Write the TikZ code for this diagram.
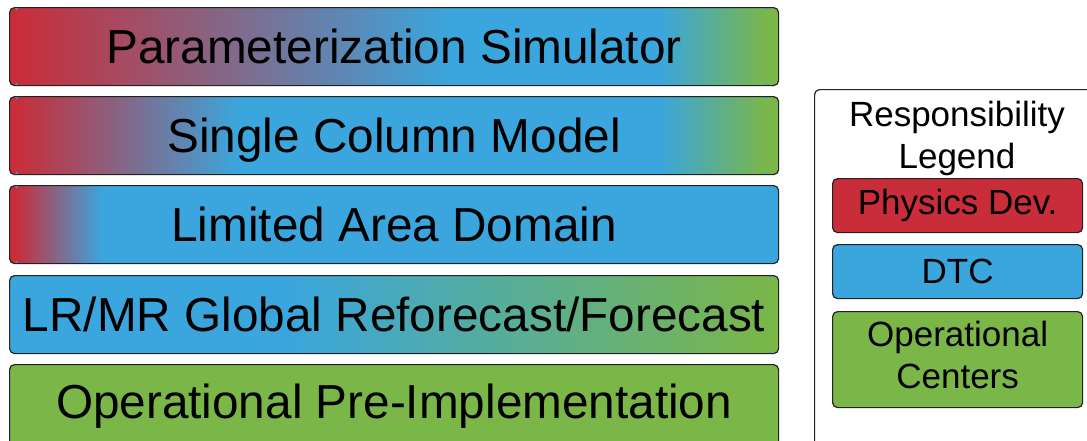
\documentclass[tikz,border=0pt]{standalone}
\usepackage{fontspec}
\setmainfont{Liberation Sans}
\usetikzlibrary{calc}
\definecolor{pred}{HTML}{C92D39}
\definecolor{dblue}{HTML}{3AA6DD}
\definecolor{ogreen}{HTML}{7AB648}
\definecolor{edge}{HTML}{222222}
\newcommand\gseg[4]{\shade[left color=#3,right color=#4]
  ($(path picture bounding box.south west)!#1!(path picture bounding box.south east)$) rectangle
  ($(path picture bounding box.north west)!#2!(path picture bounding box.north east)$);}
\newcommand\fseg[3]{\fill[#3]
  ($(path picture bounding box.south west)!#1!(path picture bounding box.south east)$) rectangle
  ($(path picture bounding box.north west)!#2!(path picture bounding box.north east)$);}
\tikzset{
  boxbase/.style={draw=edge, line width=1.2pt, rounded corners=5pt, inner sep=0pt, anchor=north west},
  rowbox/.style={boxbase, minimum width=769pt, minimum height=78pt,
    font=\fontsize{47.7}{56}\selectfont, text height=34pt, text depth=0pt},
  legitem/.style={boxbase, minimum width=250pt, minimum height=54pt, align=center,
    font=\fontsize{35}{42}\selectfont},
  legtitle/.style={inner sep=0pt, align=center, anchor=north, font=\fontsize{35}{42}\selectfont},
}
\begin{document}
\begin{tikzpicture}[x=1pt,y=-1pt]
\useasboundingbox (0,0) rectangle (1087,440);
\clip (0,0) rectangle (1087,440);
% rows
\node[rowbox, path picture={
   \fseg{0}{1}{dblue}
   \gseg{0.008}{0.575}{pred}{dblue}
   \gseg{0.845}{0.985}{dblue}{ogreen}
   \fseg{0.983}{1}{ogreen}
   \fseg{0}{0.01}{pred}}]
  (ps) at (9,7) {Parameterization Simulator};
\node[rowbox, path picture={
   \fseg{0}{1}{dblue}
   \gseg{0.008}{0.30}{pred}{dblue}
   \gseg{0.845}{0.985}{dblue}{ogreen}
   \fseg{0.983}{1}{ogreen}
   \fseg{0}{0.01}{pred}}]
  (scm) at (9,96) {Single Column Model};
\node[rowbox, path picture={
   \fseg{0}{1}{dblue}
   \gseg{0.008}{0.12}{pred}{dblue}
   \fseg{0}{0.01}{pred}}]
  (lad) at (9,185) {Limited Area Domain};
\node[rowbox, path picture={
   \fseg{0}{1}{dblue}
   \gseg{0.36}{0.99}{dblue}{ogreen}
   \fseg{0.988}{1}{ogreen}}]
  (glob) at (9,275) {LR/MR Global Reforecast/Forecast};
\node[rowbox, fill=ogreen, minimum height=95pt, text depth=22pt]
  (opi) at (9,364) {Operational Pre-Implementation};
% legend
\node[boxbase, minimum width=290pt, minimum height=400pt] (legend) at (814,89) {};
\node[legtitle] (legt) at (957,101) {Responsibility\\Legend};
\node[legitem, fill=pred] (lphys) at (832,178) {Physics Dev.};
\node[legitem, fill=dblue] (ldtc) at (832,244) {DTC};
\node[legitem, fill=ogreen, minimum height=96pt, text depth=10pt] (lops) at (832,311) {Operational\\Centers};
\end{tikzpicture}
\end{document}
